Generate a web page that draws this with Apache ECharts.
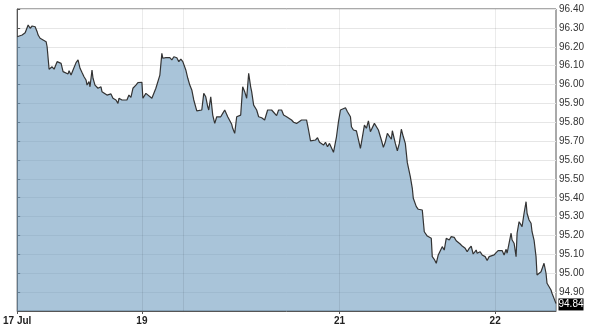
<!DOCTYPE html>
<html>
<head>
<meta charset="utf-8">
<script src="https://cdn.jsdelivr.net/npm/echarts@6/dist/echarts.min.js"></script>
<style>
html,body{margin:0;padding:0;background:#fff;}
#c{width:589px;height:328px;}
</style>
</head>
<body>
<div id="c"></div>
<script>
// Session time index (evenly spaced trading slots from the start of 17 Jul)
const times = [0,5,8,11,13,15,18,20,21,23,25,26,29,30,32,35,37,40,42,44,46,48,51,52,54,56,59,61,63,65,67,69,70,72,73,75,76,78,80,81,84,85,87,90,92,94,96,99,101,102,105,107,110,112,114,116,119,121,
125,126,129,131,135,136,139,141,143,145,146,149,151,153,155,157,160,162,164,166,169,171,173,175,177,180,182,185,187,189,191,192,194,196,198,200,202,204,206,208,210,211,213,215,216,218,220,222,224,226,228,230,232,234,235,237,240,242,
245,248,251,253,255,257,260,262,265,267,270,272,275,277,280,282,285,287,290,292,294,296,299,301,303,305,307,309,311,313,315,317,320,322,324,326,329,331,334,335,337,340,342,344,346,348,350,352,354,356,358,
360,362,365,367,369,371,373,375,376,379,381,383,385,387,389,391,392,394,396,397,400,402,404,406,408,410,411,413,415,416,418,420,422,424,426,428,430,433,435,438,440,442,444,446,449,451,453,455,457,460,461,464,466,
469,471,473,475,478,480,482,484,486,488,490,491,493,495,496,498,500,501,503,505,506,508,510,511,513,515,516,518,520,521,523,525,526,528,530,531,533,535,536,538,540];
const values = [96.253,96.262,96.274,96.315,96.298,96.310,96.306,96.280,96.262,96.245,96.253,96.236,96.227,96.200,96.081,96.094,96.081,96.121,96.116,96.112,96.068,96.063,96.056,96.073,96.050,96.077,96.116,96.130,96.086,96.063,96.041,96.024,95.997,96.015,95.988,96.077,96.033,95.997,96.006,95.980,95.988,95.962,95.971,95.944,95.935,95.950,95.927,95.918,95.900,95.927,95.918,95.927,95.918,95.944,95.932,95.980,95.997,96.010,
96.012,95.927,95.953,95.944,95.927,95.918,95.980,95.983,96.050,96.165,96.139,96.142,96.135,96.142,96.130,96.147,96.142,96.121,96.135,96.121,96.077,96.033,95.997,95.971,95.918,95.860,95.860,95.865,95.953,95.935,95.882,95.865,95.935,95.838,95.794,95.829,95.821,95.829,95.847,95.865,95.856,95.829,95.821,95.789,95.768,95.741,95.829,95.821,95.838,95.988,95.962,95.927,96.059,95.988,95.962,95.891,95.865,95.829,
95.824,95.812,95.865,95.856,95.865,95.853,95.835,95.865,95.865,95.838,95.829,95.829,95.812,95.800,95.794,95.789,95.812,95.817,95.812,95.759,95.701,95.701,95.706,95.718,95.694,95.688,95.679,95.694,95.670,95.688,95.679,95.641,95.723,95.803,95.865,95.856,95.877,95.856,95.829,95.776,95.759,95.754,95.750,95.662,95.723,95.785,95.768,95.807,95.750,95.750,95.794,
95.798,95.759,95.706,95.667,95.697,95.741,95.750,95.710,95.755,95.688,95.649,95.688,95.763,95.723,95.688,95.586,95.579,95.512,95.450,95.397,95.353,95.339,95.331,95.335,95.220,95.212,95.197,95.203,95.185,95.088,95.074,95.053,95.097,95.091,95.141,95.123,95.185,95.176,95.194,95.190,95.172,95.167,95.155,95.144,95.132,95.114,95.132,95.144,95.102,95.123,95.106,95.114,95.097,
95.088,95.067,95.088,95.091,95.097,95.109,95.120,95.114,95.120,95.097,95.127,95.106,95.159,95.212,95.176,95.159,95.088,95.212,95.273,95.282,95.247,95.318,95.379,95.318,95.282,95.265,95.220,95.176,95.088,94.991,94.982,95.008,95.017,95.053,95.000,94.947,94.938,94.911,94.894,94.867,94.840];

// Day boundaries on the session index
const dayPositions = [0, 125, 166, 323, 479];
const dayNames = ['17 Jul', '19', '20', '21', '22'];
const labelledDays = ['17 Jul', '19', '21', '22'];

const labelPositions = dayPositions.filter((p, i) => labelledDays.includes(dayNames[i]));
const gridDays = dayPositions.slice(1);

const yMin = 94.80, yMax = 96.40, yStep = 0.1;

const data = times.map((t, i) => [t, values[i]]);
const lastT = times[times.length - 1];
const lastV = values[values.length - 1];

const chart = echarts.init(document.getElementById('c'), null, {renderer: 'canvas'});
chart.setOption({
  animation: false,
  backgroundColor: '#fff',
  grid: {left: 17, right: 33, top: 9, bottom: 17, show: true, borderColor: '#555', borderWidth: 1, backgroundColor: 'transparent'},
  xAxis: {
    type: 'value',
    min: times[0],
    max: lastT,
    axisLine: {show: true, lineStyle: {color: '#555', width: 1}},
    axisTick: {show: true, customValues: labelPositions, length: 3, lineStyle: {color: '#555'}},
    axisLabel: {
      show: true,
      customValues: labelPositions,
      margin: 5,
      fontFamily: 'Liberation Sans, Arial, sans-serif',
      fontSize: 10,
      fontWeight: 'bold',
      color: '#222',
      formatter: function (v) {
        const i = dayPositions.indexOf(v);
        return i >= 0 ? dayNames[i] : '';
      }
    },
    splitLine: {show: false}
  },
  yAxis: {
    type: 'value',
    position: 'right',
    min: yMin,
    max: yMax,
    interval: yStep,
    axisLine: {show: true, lineStyle: {color: '#555', width: 1}},
    axisTick: {show: true, length: 3, inside: false, lineStyle: {color: '#555'}},
    axisLabel: {
      margin: 3,
      fontFamily: 'Liberation Sans, Arial, sans-serif',
      fontSize: 10,
      color: '#333',
      showMinLabel: false,
      formatter: v => v.toFixed(2)
    },
    splitLine: {show: true, lineStyle: {color: '#e6e6e6', width: 1}}
  },
  series: [{
    type: 'line',
    data: data,
    symbol: 'none',
    smooth: false,
    lineStyle: {color: '#333', width: 1.2},
    areaStyle: {color: '#6f9cc0', opacity: 0.6, origin: 'start'},
    markLine: {
      silent: true,
      symbol: 'none',
      label: {show: false},
      lineStyle: {color: 'rgba(0,0,0,0.08)', type: 'solid', width: 1},
      data: gridDays.map(d => ({xAxis: d}))
    },
    markPoint: {
      silent: true,
      symbol: 'rect',
      symbolSize: [25, 12],
      symbolOffset: [15, 1],
      itemStyle: {color: '#000'},
      label: {
        show: true,
        position: 'inside',
        color: '#fff',
        fontFamily: 'Liberation Sans, Arial, sans-serif',
        fontSize: 10,
        formatter: () => lastV.toFixed(2)
      },
      data: [{coord: [lastT, lastV]}]
    }
  }]
});
</script>
</body>
</html>
